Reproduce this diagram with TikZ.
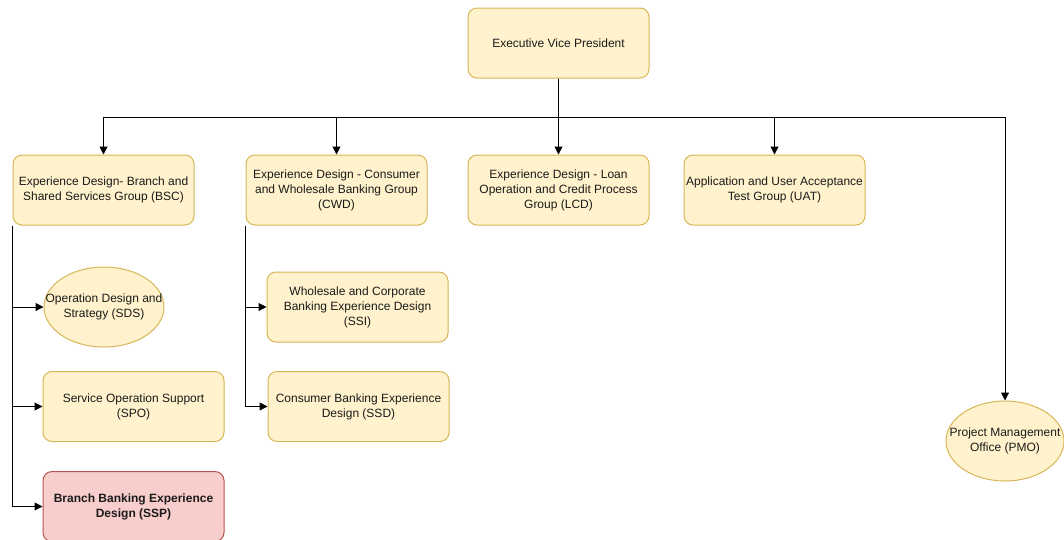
\documentclass[tikz,border=0pt]{standalone}
\usepackage{fontspec}
\setmainfont{Liberation Sans}
\usetikzlibrary{arrows.meta,shapes.geometric}
\definecolor{yfill}{HTML}{FFF2CC}
\definecolor{ydraw}{HTML}{D6B656}
\definecolor{rfill}{HTML}{F8CECC}
\definecolor{rdraw}{HTML}{B85450}
\definecolor{txt}{HTML}{1A1A1A}
\tikzset{
  base/.style={font=\fontsize{12}{15}\selectfont, text=txt, align=center, line width=1pt, inner sep=1pt},
  box/.style={base, rectangle, rounded corners=9pt, fill=yfill, draw=ydraw, minimum width=181pt, minimum height=70pt},
  redbox/.style={box, fill=rfill, draw=rdraw, font=\fontsize{12}{15}\selectfont\bfseries},
  oval/.style={ellipse, fill=yfill, draw=ydraw, line width=1pt, inner sep=0pt},
  ovaltext/.style={base},
  arr/.style={draw=black, line width=1pt, -{Triangle[length=8pt,width=8pt]}},
  ln/.style={draw=black, line width=1pt}
}
\begin{document}
\begin{tikzpicture}[x=1pt,y=-1pt]
\useasboundingbox (0,0) rectangle (1064,539);
\node[box] (evp) at (558.5,43) {Executive Vice President};
\node[box] (bsc) at (103.5,190) {Experience Design- Branch and\\Shared Services Group (BSC)};
\node[box] (cwd) at (336.5,190) {Experience Design - Consumer\\and Wholesale Banking Group\\(CWD)};
\node[box] (lcd) at (558.5,190) {Experience Design - Loan\\Operation and Credit Process\\Group (LCD)};
\node[box] (uat) at (774.5,190) {Application and User Acceptance\\Test Group (UAT)};
\node[oval, minimum width=120pt, minimum height=80pt, label={[ovaltext]center:{Operation Design and\\Strategy (SDS)}}] (sds) at (104,307) {};
\node[box] (spo) at (133.5,406.5) {Service Operation Support\\(SPO)};
\node[redbox] (ssp) at (133.5,506.5) {Branch Banking Experience\\Design (SSP)};
\node[box] (ssi) at (357.5,307) {Wholesale and Corporate\\Banking Experience Design\\(SSI)};
\node[box] (ssd) at (358.5,406.5) {Consumer Banking Experience\\Design (SSD)};
\node[oval, minimum width=118pt, minimum height=80pt, label={[ovaltext]center:{Project Management\\Office (PMO)}}] (pmo) at (1005,441) {};
\coordinate (busy) at (0,117);
\draw[arr] (evp.south) -- (evp.south |- busy) -| (bsc.north);
\draw[arr] (evp.south) -- (evp.south |- busy) -| (cwd.north);
\draw[arr] (evp.south) -- (lcd.north);
\draw[arr] (evp.south) -- (evp.south |- busy) -| (uat.north);
\draw[arr] (evp.south) -- (evp.south |- busy) -| (pmo.north);
\draw[arr] (bsc.south west) |- (sds.west);
\draw[arr] (bsc.south west) |- (spo.west);
\draw[arr] (bsc.south west) |- (ssp.west);
\draw[arr] (cwd.south west) |- (ssi.west);
\draw[arr] (cwd.south west) |- (ssd.west);
\end{tikzpicture}
\end{document}
